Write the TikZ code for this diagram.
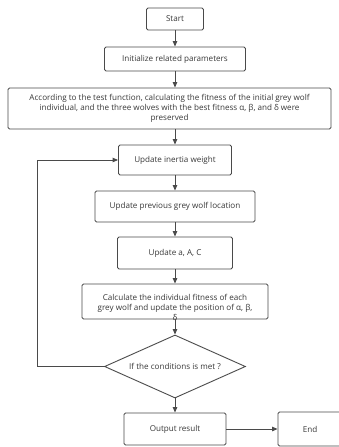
\documentclass[tikz,border=0pt]{standalone}
\usepackage{fontspec}
\setmainfont{Open Sans}
\usetikzlibrary{arrows.meta,shapes.geometric}
\definecolor{linec}{HTML}{4A4A4A}
\definecolor{textc}{HTML}{383838}
\tikzset{
  box/.style={draw=linec, line width=0.9pt, rounded corners=1.5pt, fill=white, inner sep=2pt,
    text=textc, font=\fontsize{8.1}{10}\selectfont, align=center},
  txt/.style={text=textc, font=\fontsize{8.1}{10}\selectfont, align=center, inner sep=0pt},
  dia/.style={draw=linec, line width=0.9pt, diamond, aspect=2.24, inner sep=0pt, fill=white,
    text=textc, font=\fontsize{8.1}{10}\selectfont},
  arr/.style={draw=linec, line width=0.9pt, -{Triangle[length=5.5pt,width=4.5pt]}},
}
\begin{document}
\begin{tikzpicture}[x=1pt,y=-1pt]
\useasboundingbox (0,0) rectangle (339,447);
\clip (0,0) rectangle (339,447);
\node[box, minimum width=57pt, minimum height=22pt] (start) at (175,19) {Start};
\node[box, minimum width=141pt, minimum height=24pt] (init) at (175,59) {Initialize related parameters};
\node[box, minimum width=323pt, minimum height=41pt] (accord) at (169.5,108.5)
  {According to the test function, calculating the fitness of the initial grey wolf\\
   individual, and the three wolves with the best fitness α, β, and δ were\\ preserved};
\node[box, minimum width=113pt, minimum height=30pt] (inertia) at (175,160) {Update inertia weight};
\node[box, minimum width=160pt, minimum height=31pt] (prev) at (175,206.5) {Update previous grey wolf location};
\node[box, minimum width=115pt, minimum height=32pt] (upd) at (175,253) {Update a, A, C};
\node[box, minimum width=186pt, minimum height=35pt] (calc) at (175,301.5) {};
\node[txt] (calctext) at (175,307.5) {Calculate the individual fitness of each\\ grey wolf and update the position of α, β,\\ δ};
\node[dia, minimum width=141pt, minimum height=63pt] (cond) at (175,366.5) {If the conditions is met ?};
\node[box, minimum width=102pt, minimum height=32pt] (out) at (175,429) {Output result};
\node[box, minimum width=64pt, minimum height=34pt] (end) at (310,429) {End};
\coordinate (lb) at (37,366.5);
\coordinate (lt) at (37,160);

\draw[arr] (start) -- (init);
\draw[arr] (init) -- (init |- accord.north);
\draw[arr] (accord.south -| inertia.north) -- (inertia);
\draw[arr] (inertia) -- (prev);
\draw[arr] (prev) -- (upd);
\draw[arr] (upd) -- (calc);
\draw[arr] (calc) -- (cond);
\draw[arr] (cond) -- (out);
\draw[arr] (out) -- (end);
\draw[arr] (cond.west) -- (lb) -- (lt) -- (inertia.west);
\end{tikzpicture}
\end{document}
